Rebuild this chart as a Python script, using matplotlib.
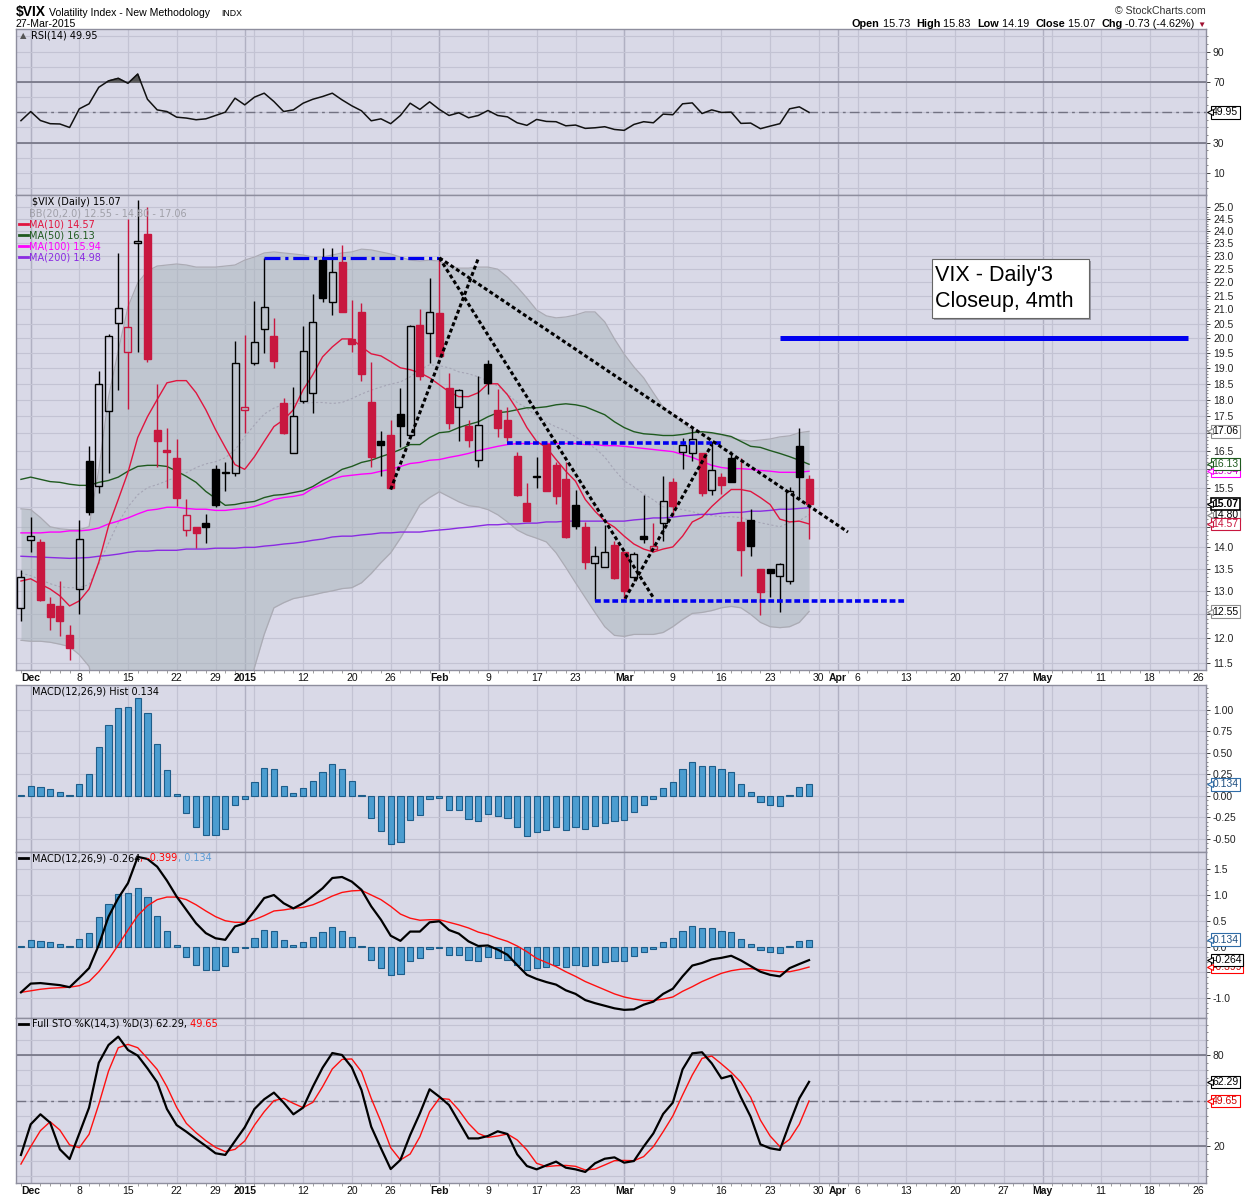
import numpy as np
import pandas as pd
import matplotlib
matplotlib.use("Agg")
import matplotlib.pyplot as plt
from matplotlib.lines import Line2D
from matplotlib.patches import Rectangle
from matplotlib.ticker import FixedLocator, FixedFormatter, NullFormatter

plt.rcParams['font.family'] = ['Liberation Sans', 'DejaVu Sans']

# trading calendar (Nov 28 2014 .. end of May 2015)
holidays = ["2014-12-25", "2015-01-01", "2015-01-19", "2015-02-16", "2015-04-03", "2015-05-25"]
sessions = pd.bdate_range("2014-11-28", "2015-05-29")
sessions = sessions[~sessions.isin(pd.to_datetime(holidays))]

# daily candles, $VIX
opens = [12.63, 14.18, 14.13, 12.71, 12.67, 12.06, 13.04, 16.21, 15.53, 17.67,
         20.53, 19.53, 23.50, 23.88, 17.11, 16.54, 16.29, 14.42, 14.49, 14.59,
         16.01, 15.88, 15.88, 17.70, 19.17, 20.31, 20.07, 17.91, 16.43, 17.98,
         18.20, 22.84, 21.26, 22.76, 19.98, 20.91, 17.94, 16.77, 16.94, 17.58,
         16.94, 20.45, 20.18, 20.87, 18.38, 17.79, 17.23, 16.26, 19.13, 17.70,
         17.40, 16.37, 15.09, 15.78, 16.70, 16.10, 15.72, 15.04, 14.49, 13.63,
         13.53, 14.05, 13.89, 13.31, 14.27, 13.96, 14.59, 15.66, 16.46, 16.43,
         16.43, 15.45, 15.77, 16.29, 14.62, 14.67, 13.49, 13.49, 13.34, 13.22,
         16.63, 15.73]
highs = [13.47, 14.74, 14.20, 12.86, 13.22, 12.27, 14.66, 16.65, 18.90, 20.14,
         23.10, 24.50, 25.30, 25.00, 18.50, 17.17, 16.85, 15.19, 14.49, 14.82,
         16.10, 16.18, 19.90, 20.10, 21.30, 22.93, 20.70, 18.07, 18.40, 20.40,
         21.56, 23.30, 23.30, 23.45, 21.34, 21.23, 19.20, 17.08, 17.40, 18.37,
         20.44, 21.00, 22.15, 22.93, 18.85, 18.34, 17.40, 18.75, 19.27, 18.34,
         17.79, 16.46, 15.61, 16.32, 16.77, 16.18, 16.18, 15.45, 14.62, 14.03,
         14.55, 14.15, 13.90, 13.89, 15.30, 14.60, 15.80, 15.75, 16.88, 17.17,
         16.43, 16.74, 15.90, 16.50, 16.29, 14.94, 13.49, 13.49, 13.64, 15.52,
         17.17, 15.83]
lows = [12.34, 13.89, 12.78, 12.17, 12.04, 11.56, 12.50, 14.80, 15.37, 15.90,
        18.30, 17.73, 19.53, 19.20, 16.05, 15.50, 15.01, 14.27, 13.98, 14.10,
        15.00, 15.42, 15.80, 17.00, 19.10, 19.50, 19.00, 16.97, 16.43, 17.90,
        17.60, 21.28, 20.80, 20.91, 19.53, 18.60, 16.05, 15.80, 15.47, 16.62,
        16.88, 18.63, 19.17, 19.36, 17.13, 16.77, 16.60, 16.05, 18.19, 16.91,
        16.77, 15.27, 14.64, 15.48, 15.40, 15.07, 14.22, 14.44, 13.49, 12.78,
        13.53, 13.27, 12.82, 13.22, 14.10, 13.89, 14.15, 14.77, 15.99, 16.23,
        15.27, 15.30, 15.32, 15.64, 13.34, 13.79, 12.48, 12.86, 12.53, 13.15,
        15.19, 14.19]
closes = [13.31, 14.27, 12.80, 12.44, 12.34, 11.80, 14.20, 14.86, 18.50, 20.07,
          21.05, 20.38, 23.60, 19.29, 16.77, 16.46, 15.22, 14.79, 14.35, 14.49,
          15.05, 15.92, 19.17, 17.79, 19.87, 21.08, 19.23, 17.00, 17.52, 19.57,
          20.56, 21.42, 22.38, 20.91, 19.79, 18.82, 16.34, 16.66, 15.48, 17.22,
          20.42, 18.76, 20.91, 19.40, 17.31, 18.31, 16.80, 17.25, 18.53, 17.17,
          16.91, 15.30, 14.64, 15.80, 15.40, 15.27, 14.25, 14.52, 13.65, 13.79,
          13.89, 13.29, 13.00, 13.84, 14.20, 14.03, 15.14, 15.01, 16.66, 16.85,
          15.37, 15.96, 15.56, 15.64, 13.94, 14.03, 12.98, 13.41, 13.60, 15.40,
          15.77, 15.07]

# overlays
ma10 = [13.22, 13.27, 13.15, 13.04, 12.89, 12.67, 12.78, 13.04, 13.65, 14.52,
        15.19, 15.91, 16.88, 17.49, 18.01, 18.53, 18.60, 18.60, 18.22, 17.70,
        17.11, 16.60, 16.12, 15.99, 16.34, 16.77, 17.20, 17.40, 17.70, 18.31,
        18.79, 19.37, 19.70, 19.97, 19.97, 19.70, 19.47, 19.40, 19.21, 19.01,
        18.95, 18.85, 18.69, 18.47, 18.25, 18.10, 18.10, 18.22, 18.50, 18.50,
        18.16, 17.70, 17.17, 16.77, 16.60, 16.26, 15.94, 15.67, 15.19, 14.89,
        14.64, 14.49, 14.27, 14.08, 13.96, 13.89, 13.96, 14.01, 14.27, 14.62,
        14.74, 15.01, 15.24, 15.45, 15.45, 15.40, 15.24, 15.06, 14.69, 14.62,
        14.64, 14.57]
ma50 = [15.72, 15.78, 15.72, 15.66, 15.64, 15.59, 15.56, 15.56, 15.64, 15.69,
        15.78, 15.94, 16.07, 16.10, 16.10, 16.07, 15.94, 15.80, 15.64, 15.40,
        15.22, 15.04, 15.06, 15.11, 15.14, 15.24, 15.30, 15.32, 15.37, 15.42,
        15.53, 15.69, 15.82, 15.99, 16.07, 16.18, 16.24, 16.34, 16.43, 16.54,
        16.68, 16.68, 16.88, 17.02, 17.05, 17.17, 17.26, 17.34, 17.49, 17.61,
        17.64, 17.70, 17.76, 17.76, 17.79, 17.85, 17.88, 17.85, 17.79, 17.67,
        17.55, 17.34, 17.17, 17.05, 16.99, 16.97, 16.94, 16.94, 16.97, 17.02,
        17.05, 17.02, 16.97, 16.91, 16.77, 16.63, 16.60, 16.51, 16.43, 16.34,
        16.24, 16.13]
ma100 = [14.35, 14.35, 14.35, 14.37, 14.37, 14.40, 14.40, 14.42, 14.47, 14.57,
         14.64, 14.72, 14.82, 14.91, 14.94, 14.99, 14.99, 14.96, 14.94, 14.94,
         14.91, 14.91, 14.94, 14.96, 15.01, 15.09, 15.19, 15.24, 15.27, 15.32,
         15.48, 15.59, 15.72, 15.80, 15.83, 15.86, 15.88, 15.94, 15.99, 16.07,
         16.15, 16.18, 16.24, 16.26, 16.32, 16.37, 16.43, 16.51, 16.57, 16.63,
         16.68, 16.71, 16.71, 16.71, 16.71, 16.71, 16.71, 16.71, 16.68, 16.68,
         16.65, 16.65, 16.63, 16.60, 16.57, 16.54, 16.51, 16.48, 16.40, 16.32,
         16.21, 16.10, 16.04, 16.01, 16.01, 15.99, 15.96, 15.94, 15.91, 15.91,
         15.91, 15.94]
ma200 = [13.79, 13.78, 13.77, 13.76, 13.75, 13.74, 13.75, 13.76, 13.79, 13.81,
         13.84, 13.88, 13.91, 13.91, 13.93, 13.93, 13.93, 13.96, 13.96, 13.96,
         13.98, 13.98, 13.98, 14.00, 14.00, 14.03, 14.05, 14.08, 14.10, 14.13,
         14.17, 14.20, 14.25, 14.27, 14.27, 14.30, 14.32, 14.35, 14.35, 14.37,
         14.37, 14.37, 14.40, 14.42, 14.44, 14.47, 14.49, 14.52, 14.55, 14.55,
         14.57, 14.57, 14.59, 14.59, 14.62, 14.62, 14.64, 14.64, 14.64, 14.64,
         14.64, 14.64, 14.64, 14.67, 14.69, 14.72, 14.72, 14.74, 14.77, 14.79,
         14.81, 14.81, 14.84, 14.86, 14.86, 14.89, 14.89, 14.91, 14.94, 14.94,
         14.96, 14.98]
bb_upper = [14.95, 14.93, 14.73, 14.50, 14.45, 14.43, 14.43, 14.50, 15.98, 18.09,
            19.57, 21.09, 21.97, 22.42, 22.61, 22.65, 22.69, 22.65, 22.57, 22.57,
            22.57, 22.61, 22.65, 22.84, 22.96, 23.12, 23.16, 23.12, 23.08, 23.04,
            22.96, 22.96, 23.04, 23.12, 23.16, 23.27, 23.24, 23.16, 23.08, 22.96,
            22.84, 22.80, 22.84, 22.80, 22.61, 22.53, 22.53, 22.57, 22.57, 22.49,
            22.19, 21.82, 21.41, 20.98, 20.77, 20.70, 20.73, 20.80, 20.91, 20.91,
            20.56, 19.97, 19.46, 19.04, 18.69, 18.22, 17.78, 17.54, 17.31, 17.08,
            17.02, 16.99, 16.96, 16.87, 16.81, 16.78, 16.81, 16.84, 16.90, 16.93,
            17.02, 17.06]
bb_mid = [13.40, 13.34, 13.25, 13.16, 13.09, 13.07, 13.07, 13.14, 13.60, 14.10,
          14.60, 15.00, 15.31, 15.50, 15.58, 15.68, 15.79, 15.90, 16.04, 16.14,
          16.20, 16.31, 16.53, 16.90, 17.25, 17.57, 17.75, 17.86, 17.89, 17.89,
          17.92, 17.92, 17.89, 17.92, 18.04, 18.18, 18.30, 18.40, 18.49, 18.56,
          18.72, 18.95, 19.11, 19.08, 19.01, 18.88, 18.82, 18.72, 18.59, 18.43,
          18.18, 17.92, 17.75, 17.51, 17.33, 17.19, 17.08, 16.90, 16.73, 16.58,
          16.33, 15.98, 15.68, 15.52, 15.34, 15.18, 15.00, 14.98, 14.93, 14.88,
          14.80, 14.78, 14.75, 14.75, 14.73, 14.65, 14.60, 14.55, 14.50, 14.60,
          14.65, 14.80]
bb_lower = [11.95, 11.93, 11.93, 11.91, 11.87, 11.82, 11.66, 11.43, 10.60, 9.60,
            8.80, 8.20, 7.90, 7.80, 7.80, 7.90, 8.00, 8.20, 8.40, 8.60,
            8.90, 9.30, 9.90, 10.60, 11.41, 12.07, 12.63, 12.74, 12.83, 12.87,
            12.91, 12.96, 13.00, 13.05, 13.07, 13.18, 13.39, 13.64, 13.87, 14.22,
            14.62, 15.05, 15.24, 15.39, 15.26, 15.13, 15.03, 15.00, 14.93, 14.80,
            14.62, 14.42, 14.30, 14.22, 14.13, 13.87, 13.53, 13.18, 12.85, 12.53,
            12.23, 12.05, 12.03, 12.07, 12.07, 12.07, 12.11, 12.23, 12.38, 12.51,
            12.53, 12.57, 12.63, 12.66, 12.63, 12.49, 12.32, 12.23, 12.21, 12.23,
            12.32, 12.55]

# indicators
rsi = [44.5, 50.5, 44.6, 42.5, 42.3, 40.0, 52.3, 55.6, 66.5, 70.7,
       72.4, 69.1, 75.2, 58.6, 51.6, 50.5, 46.8, 46.2, 45.1, 45.7,
       47.9, 50.1, 59.3, 54.9, 60.0, 62.6, 57.1, 50.5, 51.6, 56.0,
       58.6, 60.4, 62.6, 58.2, 54.3, 51.0, 44.4, 45.7, 42.5, 47.9,
       56.0, 51.9, 56.9, 51.9, 47.9, 49.7, 46.4, 47.9, 51.2, 47.9,
       47.0, 43.1, 41.4, 45.3, 44.0, 43.8, 41.1, 41.6, 39.4, 39.8,
       40.5, 38.7, 38.1, 42.0, 43.8, 43.1, 48.8, 48.4, 55.6, 56.2,
       49.2, 51.6, 49.9, 50.1, 42.7, 42.9, 39.2, 40.9, 42.5, 52.3,
       53.6, 49.95]
macd_hist = [0.01, 0.12, 0.11, 0.08, 0.05, 0.01, 0.14, 0.26, 0.57, 0.82,
             1.02, 1.04, 1.14, 0.97, 0.60, 0.30, 0.02, -0.20, -0.36, -0.45,
             -0.45, -0.38, -0.11, -0.03, 0.16, 0.33, 0.31, 0.12, 0.03, 0.09,
             0.18, 0.28, 0.37, 0.31, 0.18, 0.01, -0.26, -0.41, -0.56, -0.54,
             -0.28, -0.22, -0.04, -0.02, -0.16, -0.16, -0.27, -0.29, -0.21, -0.23,
             -0.26, -0.36, -0.46, -0.42, -0.40, -0.36, -0.39, -0.36, -0.38, -0.35,
             -0.31, -0.29, -0.28, -0.19, -0.10, -0.04, 0.09, 0.16, 0.31, 0.40,
             0.35, 0.35, 0.31, 0.28, 0.14, 0.05, -0.07, -0.11, -0.12, 0.01,
             0.11, 0.134]
macd_line = [-0.89, -0.72, -0.71, -0.73, -0.75, -0.79, -0.61, -0.42, 0.03, 0.58,
             0.94, 1.23, 1.74, 1.70, 1.55, 1.28, 0.97, 0.71, 0.45, 0.26,
             0.16, 0.13, 0.39, 0.45, 0.69, 0.94, 1.00, 0.84, 0.74, 0.84,
             0.98, 1.13, 1.33, 1.35, 1.26, 1.10, 0.78, 0.52, 0.21, 0.11,
             0.29, 0.29, 0.47, 0.49, 0.32, 0.25, 0.10, 0.01, 0.02, -0.06,
             -0.16, -0.36, -0.55, -0.63, -0.69, -0.74, -0.85, -0.92, -1.04, -1.10,
             -1.15, -1.20, -1.23, -1.22, -1.13, -1.07, -0.92, -0.82, -0.58, -0.37,
             -0.32, -0.25, -0.22, -0.18, -0.27, -0.38, -0.49, -0.55, -0.58, -0.42,
             -0.34, -0.264]
macd_signal = [-0.89, -0.86, -0.83, -0.81, -0.80, -0.79, -0.76, -0.68, -0.49, -0.25,
               0.03, 0.32, 0.60, 0.79, 0.91, 0.96, 0.96, 0.91, 0.81, 0.69,
               0.58, 0.50, 0.47, 0.47, 0.52, 0.60, 0.69, 0.71, 0.74, 0.76,
               0.81, 0.89, 0.98, 1.05, 1.08, 1.09, 1.00, 0.91, 0.78, 0.63,
               0.55, 0.51, 0.52, 0.52, 0.47, 0.42, 0.36, 0.28, 0.23, 0.16,
               0.10, 0.01, -0.10, -0.23, -0.31, -0.39, -0.49, -0.58, -0.68, -0.76,
               -0.84, -0.92, -0.98, -1.02, -1.05, -1.05, -1.02, -0.98, -0.87, -0.78,
               -0.68, -0.60, -0.52, -0.47, -0.44, -0.43, -0.45, -0.47, -0.49, -0.49,
               -0.45, -0.399]
sto_k = [14.1, 34.3, 40.9, 35.4, 17.8, 11.4, 28.3, 45.3, 74.9, 86.6,
         92.1, 83.3, 79.6, 71.2, 62.0, 44.4, 33.8, 29.4, 24.6, 20.0,
         15.2, 14.1, 23.3, 32.3, 44.4, 50.8, 55.2, 48.6, 40.9, 45.3,
         59.1, 71.6, 81.3, 80.0, 71.9, 56.9, 32.7, 18.5, 4.8, 10.8,
         27.2, 41.5, 57.4, 52.5, 47.0, 36.0, 25.0, 25.0, 26.6, 29.7,
         27.9, 14.5, 6.8, 4.6, 7.2, 9.7, 5.7, 4.6, 2.9, 8.6,
         11.6, 12.5, 9.0, 10.1, 19.6, 28.3, 41.1, 48.6, 70.5, 81.1,
         81.8, 74.5, 64.6, 66.4, 52.1, 39.3, 21.1, 18.5, 17.4, 34.9,
         51.4, 62.29]
sto_d = [8.1, 19.6, 30.1, 36.0, 30.5, 20.7, 18.9, 27.7, 47.5, 69.4,
         84.8, 87.0, 84.8, 77.8, 70.5, 59.1, 45.5, 34.9, 28.8, 23.5,
         19.1, 16.3, 17.8, 23.3, 33.8, 42.6, 49.9, 51.4, 48.1, 45.3,
         48.8, 59.1, 70.8, 77.1, 77.4, 69.0, 51.4, 36.0, 18.9, 10.8,
         14.7, 26.1, 42.6, 51.4, 50.8, 43.7, 34.9, 28.3, 25.7, 26.6,
         27.9, 24.0, 17.4, 8.6, 6.4, 7.0, 7.2, 6.6, 4.2, 4.8,
         7.5, 10.3, 10.5, 10.3, 13.0, 19.6, 29.4, 39.8, 53.6, 66.8,
         77.8, 79.3, 74.1, 68.6, 62.0, 52.1, 37.1, 26.6, 19.6, 24.4,
         34.3, 49.65]

# hand-drawn annotations (price levels and trendlines)
level_prices = [22.93, 16.72, 12.78, 20.0]
level_start = ["2015-01-06", "2015-02-11", "2015-02-25", "2015-03-24"]
level_end = ["2015-02-02", "2015-03-16", "2015-04-13", "2015-05-22"]
trend_x = [(43, 85), (43, 65), (38, 47), (62.1, 71)]
trend_y = [(22.93, 14.37), (22.93, 12.85), (15.45, 22.9), (12.83, 16.68)]

tick_dates = ["2014-12-01", "2014-12-08", "2014-12-15", "2014-12-22", "2014-12-29",
              "2015-01-02", "2015-01-12", "2015-01-20", "2015-01-26", "2015-02-02",
              "2015-02-09", "2015-02-17", "2015-02-23", "2015-03-02", "2015-03-09",
              "2015-03-16", "2015-03-23", "2015-03-30", "2015-04-01", "2015-04-06",
              "2015-04-13", "2015-04-20", "2015-04-27", "2015-05-01", "2015-05-11",
              "2015-05-18", "2015-05-26"]
tick_labels = ["Dec", "8", "15", "22", "29", "2015", "12", "20", "26", "Feb",
               "9", "17", "23", "Mar", "9", "16", "23", "30", "Apr", "6",
               "13", "20", "27", "May", "11", "18", "26"]
bold_labels = {"Dec", "2015", "Feb", "Mar", "Apr", "May"}

RED = "#C8173F"
BG = "#D9D9E7"
GRID = "#C3C3D3"
GRID_DARK = "#B0B0C2"
REF = "#727282"


def idx(d):
    return sessions.get_loc(pd.Timestamp(d))


x = np.arange(len(closes))
week_starts = [i for i in range(1, len(sessions)) if sessions[i].weekday() < sessions[i - 1].weekday()]
month_starts = [i for i in range(1, len(sessions)) if sessions[i].month != sessions[i - 1].month]

fig = plt.figure(figsize=(12.5, 12), dpi=100)
fig.patch.set_facecolor("white")


def rect(top, bottom):
    return [16 / 1250, 1 - bottom / 1200, 1190 / 1250, (bottom - top) / 1200]


ax_rsi = fig.add_axes(rect(29, 195))
ax_px = fig.add_axes(rect(195, 670), sharex=ax_rsi)
ax_hist = fig.add_axes(rect(685, 852), sharex=ax_rsi)
ax_macd = fig.add_axes(rect(852, 1018), sharex=ax_rsi)
ax_sto = fig.add_axes(rect(1018, 1183), sharex=ax_rsi)
axes = [ax_rsi, ax_px, ax_hist, ax_macd, ax_sto]

for ax in axes:
    ax.set_facecolor(BG)
    for s in ax.spines.values():
        s.set_color("#8E8E9E")
        s.set_linewidth(1.0)
    ax.yaxis.tick_right()
    ax.tick_params(axis="y", which="major", labelsize=7.5, length=3, pad=2, colors="#222222", width=0.6)
    ax.tick_params(axis="y", which="minor", length=1.5, width=0.5, colors="#555555")
    ax.tick_params(axis="x", which="both", bottom=False, labelbottom=False)
    for i in week_starts:
        ax.axvline(i, color=GRID, lw=0.9, zorder=0)
    for i in month_starts:
        ax.axvline(i, color=GRID_DARK, lw=1.0, zorder=0)

ax_rsi.set_xlim(-0.51, 121.8)


def fixed_labels(ax, values, fmt, hidden=()):
    # labels that sit behind the value tags in the original are left blank
    ax.yaxis.set_major_locator(FixedLocator(values))
    ax.yaxis.set_major_formatter(FixedFormatter(
        ["" if round(v, 3) in hidden else fmt % v for v in values]))


# ---- RSI ----
ax_rsi.set_ylim(-4.5, 104.9)
for v in range(0, 101, 10):
    ax_rsi.axhline(v, color=GRID, lw=0.8, zorder=0)
ax_rsi.axhline(70, color=REF, lw=1.2, zorder=1)
ax_rsi.axhline(30, color=REF, lw=1.2, zorder=1)
ax_rsi.axhline(50, color=REF, lw=1.0, ls=(0, (7, 3, 2, 3)), zorder=1)
rsi_arr = np.array(rsi)
ax_rsi.fill_between(x, rsi_arr, 70, where=rsi_arr > 70, interpolate=True, color="#585858", zorder=2)
ax_rsi.plot(x, rsi_arr, color="#111111", lw=1.1, zorder=3)
fixed_labels(ax_rsi, [10, 30, 70, 90], "%d")
ax_rsi.yaxis.set_minor_locator(FixedLocator(range(0, 101, 5)))

# ---- price ----
ax_px.set_yscale("log")
ax_px.set_ylim(11.36, 25.52)
price_ticks = list(np.arange(11.5, 25.01, 0.5))
for v in price_ticks:
    ax_px.axhline(v, color=GRID, lw=0.8, zorder=0)
fixed_labels(ax_px, price_ticks, "%.1f", hidden=(17.0, 16.0, 15.0, 14.5, 12.5))
ax_px.yaxis.set_minor_locator(FixedLocator(np.arange(11.5, 25.01, 0.1)))
ax_px.yaxis.set_minor_formatter(NullFormatter())

ax_px.fill_between(x, bb_lower, bb_upper, color="#A9B4BB", alpha=0.5, lw=0, zorder=1)
ax_px.plot(x, bb_upper, color="#ABABB4", lw=0.9, zorder=1)
ax_px.plot(x, bb_lower, color="#ABABB4", lw=0.9, zorder=1)
ax_px.plot(x, bb_mid, color="#A5A5B5", lw=0.8, ls=(0, (2, 2)), zorder=1)
ax_px.plot(x, ma200, color="#8A2BE2", lw=1.0, zorder=3)
ax_px.plot(x, ma100, color="#FF00FF", lw=1.0, zorder=3)
ax_px.plot(x, ma50, color="#1F5A1F", lw=1.0, zorder=3)
ax_px.plot(x, ma10, color="#E0153F", lw=1.0, zorder=3)

for i in range(len(closes)):
    o, h, l, c = opens[i], highs[i], lows[i], closes[i]
    prev = closes[i - 1] if i else c
    col = "black" if c >= prev else RED
    top, bot = max(o, c), min(o, c)
    hollow = c > o
    ax_px.vlines(i, top, h, color=col, lw=1.0, zorder=4)
    ax_px.vlines(i, l, bot, color=col, lw=1.0, zorder=4)
    ax_px.bar(i, top - bot, bottom=bot, width=0.72, facecolor="none" if hollow else col,
              edgecolor=col, lw=1.0, zorder=4)

level_styles = [dict(ls=(0, (5, 1.5, 1, 1.5)), lw=2.3), dict(ls=(0, (1.6, 0.8)), lw=2.6),
                dict(ls=(0, (1.6, 0.8)), lw=2.6), dict(ls="-", lw=3.6)]
for p, a, b, st in zip(level_prices, level_start, level_end, level_styles):
    ax_px.plot([idx(a), idx(b)], [p, p], color="#0000F0", zorder=5, solid_capstyle="butt", **st)
for xs, ys in zip(trend_x, trend_y):
    ax_px.plot(xs, ys, color="black", lw=2.2, ls=(0, (1.3, 0.9)), zorder=5)

# note box
bx0, bx1 = (932 - 16) / 1190, (1089 - 16) / 1190
by0, by1 = (670 - 318) / 475, (670 - 259) / 475
ax_px.add_patch(Rectangle((bx0 + 2 / 1190, by0 - 2 / 475), bx1 - bx0, by1 - by0, transform=ax_px.transAxes,
                          fc="#9A9AA6", ec="none", zorder=7))
ax_px.add_patch(Rectangle((bx0, by0), bx1 - bx0, by1 - by0, transform=ax_px.transAxes,
                          fc="white", ec="#666666", lw=0.8, zorder=8))
ax_px.text(bx0 + 3 / 1190, (by0 + by1) / 2, "VIX - Daily'3\nCloseup, 4mth", transform=ax_px.transAxes,
           ha="left", va="center", fontsize=15.5, linespacing=1.3, zorder=9)

# ---- MACD histogram ----
ax_hist.set_ylim(-0.651, 1.29)
hist_ticks = [-0.5, -0.25, 0.0, 0.25, 0.5, 0.75, 1.0]
for v in hist_ticks:
    ax_hist.axhline(v, color=GRID, lw=0.8, zorder=0)
ax_hist.bar(x, macd_hist, width=0.64, color="#4B9DD0", edgecolor="#1D5D8A", lw=0.8, zorder=3)
fixed_labels(ax_hist, hist_ticks, "%.2f")
ax_hist.yaxis.set_minor_locator(FixedLocator(np.arange(-0.6, 1.3, 0.05)))

# ---- MACD ----
ax_macd.set_ylim(-1.388, 1.835)
macd_ticks = [-1.0, -0.5, 0.0, 0.5, 1.0, 1.5]
for v in macd_ticks:
    ax_macd.axhline(v, color=GRID, lw=0.8, zorder=0)
ax_macd.bar(x, macd_hist, width=0.64, color="#4B9DD0", edgecolor="#1D5D8A", lw=0.8, zorder=2)
ax_macd.plot(x, macd_signal, color="#FF1010", lw=1.0, zorder=3)
ax_macd.plot(x, macd_line, color="black", lw=1.6, zorder=4)
fixed_labels(ax_macd, macd_ticks, "%.1f", hidden=(-0.5,))
ax_macd.yaxis.set_minor_locator(FixedLocator(np.arange(-1.3, 1.8, 0.1)))

# ---- Full stochastics ----
ax_sto.set_ylim(-4.4, 104.4)
for v in range(0, 101, 10):
    ax_sto.axhline(v, color=GRID, lw=0.8, zorder=0)
ax_sto.axhline(80, color=REF, lw=1.2, zorder=1)
ax_sto.axhline(20, color=REF, lw=1.2, zorder=1)
ax_sto.axhline(50, color=REF, lw=1.0, ls=(0, (7, 3, 2, 3)), zorder=1)
ax_sto.plot(x, sto_d, color="#FF1010", lw=1.0, zorder=3)
ax_sto.plot(x, sto_k, color="black", lw=1.6, zorder=4)
fixed_labels(ax_sto, [20, 80], "%d")
ax_sto.yaxis.set_minor_locator(FixedLocator(range(0, 101, 5)))

# ---- date axis ----
tick_pos = [idx(d) for d in tick_dates]
ax_rsi.xaxis.set_major_locator(FixedLocator(tick_pos))
ax_rsi.xaxis.set_minor_locator(FixedLocator(range(0, len(sessions))))
for ax in (ax_px, ax_sto):
    ax.tick_params(axis="x", which="major", bottom=True, labelbottom=True, length=0, pad=2,
                   labelsize=7.5, colors="#111111")
    ax.tick_params(axis="x", which="minor", bottom=True, length=2, width=0.5, colors="#777777")
ax_rsi.set_xticks(tick_pos, tick_labels)
for ax in (ax_px, ax_sto):
    for lab in ax.get_xticklabels():
        if lab.get_text() in bold_labels:
            lab.set_fontweight("bold")


# ---- right-hand value tags ----
def tag(ax, val, text, ec, tc="black", bold=False):
    ax.annotate(text, xy=(1, val), xycoords=("axes fraction", "data"), xytext=(4.5, 0),
                textcoords="offset points", ha="left", va="center", fontsize=7.5, color=tc,
                fontweight="bold" if bold else "normal", annotation_clip=False, zorder=10,
                bbox=dict(boxstyle="square,pad=0.12", fc="white", ec=ec, lw=1.2 if bold else 0.8))
    ax.plot([1.003], [val], transform=ax.get_yaxis_transform(), marker="<", ms=4.5,
            mfc="white", mec=ec, mew=0.8, clip_on=False, zorder=11)


tag(ax_rsi, rsi[-1], "49.95", "black")
tag(ax_px, bb_upper[-1], "17.06", "#8E8E8E")
tag(ax_px, ma100[-1], "15.94", "#FF00FF", "#CC00CC")
tag(ax_px, ma50[-1], "16.13", "#1F5A1F", "#1F5A1F")
tag(ax_px, bb_mid[-1], "14.80", "#8E8E8E")
tag(ax_px, ma10[-1], "14.57", RED, RED)
tag(ax_px, closes[-1], "15.07", "black", bold=True)
tag(ax_px, bb_lower[-1], "12.55", "#8E8E8E")
tag(ax_hist, macd_hist[-1], "0.134", "#2F6DA8", "#1F4F80")
tag(ax_macd, macd_hist[-1], "0.134", "#2F6DA8", "#1F4F80")
tag(ax_macd, macd_signal[-1], "-0.399", "#FF0000", "#CC0000")
tag(ax_macd, macd_line[-1], "-0.264", "black")
tag(ax_sto, sto_k[-1], "62.29", "black")
tag(ax_sto, sto_d[-1], "49.65", "#FF0000", "#CC0000")


# ---- panel legends ----
def chain(ax, x_px, y_px, parts, size=7):
    t = ax.annotate(parts[0][0], xy=(0, 1), xycoords="axes fraction",
                    xytext=(x_px * 0.72, -y_px * 0.72), textcoords="offset points",
                    ha="left", va="center", color=parts[0][1], fontsize=size,
                    family=["DejaVu Sans"], zorder=9)
    for s, col in parts[1:]:
        t = ax.annotate(s, xy=(1, 0.5), xycoords=t, ha="left", va="center", color=col,
                        fontsize=size, family=["DejaVu Sans"], zorder=9)
    return t


def icon(y_abs, color, lw=2.0):
    fig.add_artist(Line2D([19 / 1250, 28 / 1250], [1 - y_abs / 1200] * 2, color=color, lw=lw))


chain(ax_rsi, 15, 7, [("RSI(14) 49.95", "black")])
fig.text(20 / 1250, 1 - 36 / 1200, "\u25B2", fontsize=6, color="#555555", va="center",
         family=["DejaVu Sans"])
chain(ax_px, 16, 7, [("$VIX (Daily) 15.07", "black")])
chain(ax_px, 13, 18, [("BB(20,2.0) 12.55 - 14.80 - 17.06", "#A0A0A8")])
legend_rows = [("MA(10) 14.57", "#E0153F"), ("MA(50) 16.13", "#1F5A1F"),
               ("MA(100) 15.94", "#FF00FF"), ("MA(200) 14.98", "#8A2BE2")]
for k, (s, col) in enumerate(legend_rows):
    chain(ax_px, 13, 29 + 11 * k, [(s, col)])
    icon(195 + 29 + 11 * k, col)
chain(ax_hist, 16, 7, [("MACD(12,26,9) Hist 0.134", "black")])
chain(ax_macd, 16, 6, [("MACD(12,26,9) -0.264", "black"), (", -0.399", "#FF0000"),
                       (", 0.134", "#5A9BD5")])
icon(858, "black")
chain(ax_sto, 16, 6, [("Full STO %K(14,3) %D(3) 62.29,", "black"), (" 49.65", "#FF0000")])
icon(1024, "black")

# ---- header ----
fig.text(16 / 1250, 1 - 16 / 1200, "$VIX", fontsize=10, fontweight="bold", va="baseline")
fig.text(49 / 1250, 1 - 16 / 1200, "Volatility Index - New Methodology", fontsize=7.6, va="baseline")
fig.text(221 / 1250, 1 - 16 / 1200, "INDX", fontsize=6.3, va="baseline")
fig.text(16 / 1250, 1 - 27 / 1200, "27-Mar-2015", fontsize=7.6, va="baseline")
fig.text(1206 / 1250, 1 - 14 / 1200, "\u00A9 StockCharts.com", fontsize=7.6, ha="right",
         va="baseline", color="#333333")

parts = [("Open", True, "black"), (" 15.73  ", False, "black"), ("High", True, "black"),
         (" 15.83  ", False, "black"), ("Low", True, "black"), (" 14.19  ", False, "black"),
         ("Close", True, "black"), (" 15.07  ", False, "black"), ("Chg", True, "black"),
         (" -0.73 (-4.62%) ", False, "black"), ("\u25BC", False, "#A01030")]
t = fig.text(852 / 1250, 1 - 27 / 1200, parts[0][0], fontsize=7.8, fontweight="bold", va="baseline")
for s, b, col in parts[1:]:
    t = ax_rsi.annotate(s, xy=(1, 0), xycoords=t, ha="left", va="bottom",
                        fontsize=7.8 if s != "\u25BC" else 6,
                        fontweight="bold" if b else "normal", color=col, annotation_clip=False,
                        family=["Liberation Sans", "DejaVu Sans"])

fig.savefig("out.png", dpi=100, facecolor="white")
